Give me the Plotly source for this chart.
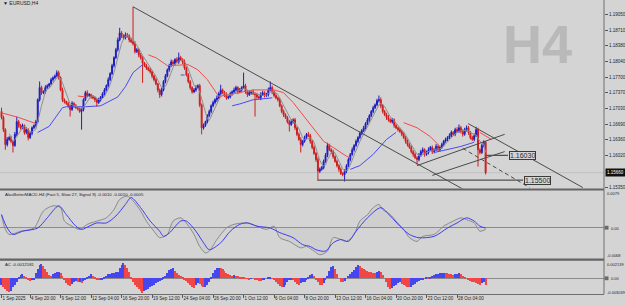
import plotly.graph_objects as go
import pandas as pd

# ---------------- data ----------------
first_open = 1.1697
closes = [
    1.1684, 1.1658, 1.1626, 1.1637, 1.1641, 1.1633, 1.1624, 1.1648, 1.1675, 1.1667,
    1.1662, 1.1667, 1.1652, 1.1658, 1.1641, 1.1650, 1.1662, 1.1667, 1.1675, 1.1722,
    1.1748, 1.1737, 1.1739, 1.1748, 1.1752, 1.1756, 1.1765, 1.1769, 1.1773, 1.1780,
    1.1769, 1.1743, 1.1722, 1.1718, 1.1714, 1.1709, 1.1701, 1.1714, 1.1709, 1.1705,
    1.1703, 1.1697, 1.1701, 1.1722, 1.1737, 1.1731, 1.1733, 1.1728, 1.1726, 1.1722,
    1.1716, 1.1722, 1.1728, 1.1735, 1.1743, 1.1752, 1.1765, 1.1778, 1.1795, 1.1812,
    1.1829, 1.1850, 1.1865, 1.1859, 1.1854, 1.1861, 1.1859, 1.1850, 1.1846, 1.1842,
    1.1825, 1.1829, 1.1818, 1.1812, 1.1801, 1.1795, 1.1790, 1.1786, 1.1782, 1.1773,
    1.1765, 1.1756, 1.1743, 1.1733, 1.1743, 1.1761, 1.1773, 1.1786, 1.1795, 1.1803,
    1.1799, 1.1808, 1.1803, 1.1812, 1.1808, 1.1803, 1.1790, 1.1775, 1.1761, 1.1748,
    1.1739, 1.1743, 1.1748, 1.1752, 1.1711, 1.1662, 1.1667, 1.1675, 1.1688, 1.1697,
    1.1709, 1.1716, 1.1722, 1.1726, 1.1735, 1.1743, 1.1737, 1.1733, 1.1726, 1.1728,
    1.1735, 1.1739, 1.1743, 1.1748, 1.1739, 1.1743, 1.1748, 1.1752, 1.1739, 1.1733,
    1.1737, 1.1739, 1.1735, 1.1733, 1.1728, 1.1726, 1.1733, 1.1737, 1.1731, 1.1733,
    1.1743, 1.1748, 1.1739, 1.1731, 1.1726, 1.1722, 1.1709, 1.1697, 1.1690, 1.1684,
    1.1675, 1.1669, 1.1675, 1.1679, 1.1662, 1.1648, 1.1637, 1.1626, 1.1633, 1.1641,
    1.1648, 1.1645, 1.1633, 1.1620, 1.1607, 1.1594, 1.1569, 1.1573, 1.1577, 1.1590,
    1.1603, 1.1624, 1.1615, 1.1611, 1.1600, 1.1590, 1.1581, 1.1573, 1.1564, 1.1562,
    1.1569, 1.1581, 1.1594, 1.1605, 1.1615, 1.1624, 1.1633, 1.1641, 1.1650, 1.1656,
    1.1662, 1.1671, 1.1679, 1.1688, 1.1697, 1.1705, 1.1711, 1.1720, 1.1722, 1.1709,
    1.1697, 1.1690, 1.1684, 1.1679, 1.1675, 1.1679, 1.1667, 1.1662, 1.1658, 1.1654,
    1.1648, 1.1641, 1.1633, 1.1626, 1.1620, 1.1611, 1.1605, 1.1598, 1.1594, 1.1603,
    1.1611, 1.1615, 1.1605, 1.1609, 1.1615, 1.1620, 1.1611, 1.1615, 1.1622, 1.1615,
    1.1620, 1.1626, 1.1633, 1.1637, 1.1641, 1.1645, 1.1652, 1.1648, 1.1658, 1.1654,
    1.1662, 1.1654, 1.1648, 1.1658, 1.1662, 1.1652, 1.1641, 1.1637, 1.1645, 1.1658,
    1.1615, 1.1609, 1.1624, 1.1631, 1.1566,
]
# upper / lower shadow lengths in pips
wick_up = [
    8, 4, 3, 5, 3, 4, 2, 5, 11, 4,   3, 4, 2, 5, 3, 4, 3, 2, 4, 3,
    13, 4, 3, 5, 3, 2, 4, 3, 3, 5,   4, 3, 5, 3, 2, 4, 3, 5, 3, 4,
    3, 2, 4, 3, 4, 5, 3, 2, 4, 3,    3, 4, 2, 3, 4, 3, 5, 3, 4, 3,
    4, 5, 11, 4, 3, 5, 4, 3, 4, 75,  5, 4, 3, 4, 3, 2, 4, 3, 5, 3,
    3, 4, 2, 3, 5, 3, 4, 3, 4, 5,    4, 3, 5, 11, 4, 3, 5, 3, 4, 3,
    3, 4, 5, 3, 4, 3, 4, 2, 3, 4,    3, 4, 3, 5, 4, 11, 3, 4, 5, 3,
    4, 3, 5, 4, 3, 4, 3, 28, 4, 3,   4, 3, 5, 3, 4, 3, 5, 4, 3, 4,
    5, 13, 4, 3, 5, 3, 4, 3, 4, 3,   3, 4, 5, 3, 4, 3, 4, 5, 3, 4,
    3, 5, 4, 3, 4, 3, 5, 4, 3, 4,    5, 6, 4, 3, 4, 3, 4, 3, 4, 3,
    4, 3, 4, 3, 5, 3, 4, 3, 4, 3,    4, 3, 4, 3, 3, 4, 3, 4, 9, 5,
    4, 3, 4, 5, 3, 4, 3, 4, 3, 4,    3, 4, 3, 4, 3, 4, 3, 4, 3, 5,
    4, 5, 3, 4, 5, 3, 4, 3, 5, 4,    3, 4, 3, 4, 3, 5, 4, 3, 4, 5,
    7, 4, 5, 4, 5, 4, 3, 4, 5, 6,    4, 3, 4, 4, 3,
]
wick_dn = [
    4, 5, 11, 4, 3, 4, 15, 3, 4, 5,  4, 3, 5, 4, 6, 3, 4, 3, 4, 3,
    4, 5, 3, 4, 3, 4, 3, 4, 3, 3,    4, 3, 5, 4, 3, 4, 15, 3, 4, 3,
    4, 3, 39, 4, 3, 4, 3, 4, 3, 5,   9, 3, 4, 3, 4, 3, 4, 3, 3, 4,
    3, 4, 3, 5, 4, 3, 4, 5, 3, 4,    4, 3, 5, 4, 43, 3, 4, 3, 4, 5,
    4, 3, 5, 7, 4, 3, 4, 3, 4, 3,    5, 4, 3, 4, 3, 5, 4, 3, 4, 5,
    4, 3, 4, 3, 5, 14, 4, 3, 4, 3,   4, 3, 4, 5, 3, 4, 3, 5, 4, 3,
    3, 4, 3, 4, 5, 3, 4, 3, 4, 5,    3, 4, 3, 47, 4, 3, 5, 3, 4, 3,
    4, 3, 5, 4, 3, 4, 3, 4, 5, 3,    4, 15, 3, 4, 5, 4, 3, 17, 4, 3,
    4, 3, 5, 4, 3, 5, 18, 4, 3, 4,   3, 4, 3, 5, 4, 3, 4, 5, 3, 4,
    15, 4, 3, 4, 3, 4, 3, 4, 3, 4,   3, 4, 3, 4, 3, 4, 3, 3, 4, 5,
    4, 3, 5, 4, 3, 4, 5, 3, 4, 3,    4, 3, 5, 4, 3, 4, 5, 3, 11, 4,
    3, 4, 5, 3, 4, 3, 5, 4, 3, 4,    4, 3, 4, 3, 4, 3, 4, 3, 4, 3,
    3, 4, 5, 3, 4, 5, 4, 3, 4, 3,    36, 4, 3, 4, 4,
]

# slow averages (drawn in segments, None = gap)
red_ma_x = [0, 9, 18, None, 40, 44, None, 77, 81, 85, 87, 98, 103, 108, 114, 122, 132, 143, 148, 153,
            158, 164, 169, 174, 181, 183, None, 211, 218, 225, 230, None, 251, 257]
red_ma_y = [1.1694, 1.1684, 1.1671, None, 1.1730, 1.1728, None, 1.1818, 1.1812, 1.1801, 1.1795,
            1.1797, 1.1786, 1.1765, 1.1729, 1.1735, 1.1743, 1.1743, 1.1737, 1.1716, 1.1690, 1.1658,
            1.1633, 1.1620, 1.1601, 1.1598, None, 1.1673, 1.1662, 1.1643, 1.1622, None, 1.1652, 1.1637]
blue_ma_x = [19, 25, 32, 34, 44, 52, 61, 65, 69, 74, None, 94, 96, None, 121, 125, 132, 142, None,
             183, 188, 195, 202, 207, None, 227, 234, 241, 248]
blue_ma_y = [1.1652, 1.1665, 1.1705, 1.1707, 1.1707, 1.1709, 1.1728, 1.1750, 1.1780, 1.1797, None,
             1.1775, 1.1775, None, 1.1709, 1.1713, 1.1722, 1.1726, None, 1.1573, 1.1581, 1.1605,
             1.1637, 1.1652, None, 1.1609, 1.1615, 1.1622, 1.1631]

# drawn objects
trend_x = [69, 244]
trend_y = [1.1921, 1.15264]
chan_upper_x = [244.8, 305]
chan_upper_y = [1.1671, 1.1534]
rise_a_x = [218, 264]
rise_a_y = [1.1581, 1.1648]
rise_b_x = [226, 264]
rise_b_y = [1.1560, 1.1611]
dash_x = [242, 277]
dash_y = [1.1618, 1.1534]
level_prices = [1.15500, 1.16030]
level_x0 = [165.6, 253.7]
level_x1 = [273.6, 265.7]
level_label_x = [281.2, 273.3]

# MACD panel
macd_x = [0, 2, 4, 10, 17, 22, 27, 31, 33, 37, 41, 45, 50, 55, 59, 62, 66, 69, 73, 76, 80, 83, 87, 90,
          94, 97, 101, 104, 107, 109, 113, 118, 122, 129, 134, 139, 143, 146, 151, 157, 160, 164, 167,
          171, 174, 178, 181, 185, 188, 192, 195, 198, 200, 204, 207, 211, 214, 218, 221, 227, 232,
          237, 241, 244, 248, 251, 254]
macd_v = [0.0027, -0.0005, -0.0016, -0.0009, -0.0002, 0.0035, 0.0046, 0.0042, 0.0013, 0.0002,
          -0.0005, 0.0006, 0.0013, 0.0020, 0.0038, 0.0060, 0.0067, 0.0057, 0.0035, 0.0013,
          -0.0009, -0.0023, -0.0016, 0.0013, 0.0020, 0.0009, -0.0016, -0.0042, -0.0056, -0.0052,
          -0.0027, -0.0002, 0.0006, 0.0009, 0.0002, -0.0005, 0.0002, -0.0023, -0.0031, -0.0045,
          -0.0042, -0.0052, -0.0060, -0.0052, -0.0023, -0.0027, -0.0031, -0.0016, 0.0013, 0.0027,
          0.0042, 0.0049, 0.0038, 0.0027, 0.0013, -0.0005, -0.0023, -0.0031, -0.0020, -0.0016,
          0.0002, 0.0013, 0.0020, 0.0016, 0.0009, -0.0009, -0.0005]
signal_x = [0, 3, 6, 11, 19, 24, 30, 34, 39, 42, 46, 50, 55, 60, 65, 68, 73, 78, 83, 85, 88, 94, 97,
            102, 106, 109, 115, 120, 125, 129, 134, 141, 146, 153, 158, 162, 165, 170, 174, 178, 182,
            186, 192, 199, 204, 209, 214, 219, 227, 234, 239, 244, 248, 251, 254]
signal_v = [0.0027, -0.0002, -0.0016, -0.0009, -0.0002, 0.0020, 0.0046, 0.0027, 0.0002, -0.0005,
            0.0002, 0.0009, 0.0009, 0.0024, 0.0049, 0.0064, 0.0042, 0.0013, -0.0009, -0.0020,
            -0.0013, 0.0013, 0.0013, -0.0009, -0.0034, -0.0049, -0.0034, -0.0009, 0.0006, 0.0009,
            0.0002, -0.0002, -0.0012, -0.0023, -0.0038, -0.0042, -0.0049, -0.0052, -0.0034, -0.0027,
            -0.0031, -0.0009, 0.0020, 0.0042, 0.0024, 0.0002, -0.0016, -0.0023, -0.0020, -0.0002,
            0.0009, 0.0020, 0.0013, 0.0002, -0.0002]

# AC panel
ac_values = [
    -0.0010, -0.00125, -0.0016, -0.0019, -0.0020, -0.0018, -0.00125, -0.0009, -0.0005, 0.00025,
    0.0005, 0.0006, 0.0004, 0.0001, -0.00025, -0.0004, -0.0003, -0.00015, 0.00075, 0.0014,
    0.0020, 0.0022, 0.0019, 0.0014, 0.0009, 0.0005, 0.0004, 0.0006, 0.00075, 0.0009,
    0.0010, 0.0008, 0.0004, -0.00025, -0.00075, -0.0010, -0.0011, -0.0008, -0.0006, -0.0004,
    -0.0006, -0.0005, -0.0007, -0.00045, -0.0002, 0.0002, 0.0004, 0.0006, 0.0004, 0.0001,
    -0.00015, -0.00025, -0.0002, -0.0001, 0.0002, 0.0004, 0.0006, 0.0007, 0.0008, 0.00085,
    0.0009, 0.0010, 0.0015, 0.0020, 0.00225, 0.0020, 0.0016, 0.0009, 0.0001, -0.0005,
    -0.0009, -0.00125, -0.0016, -0.0019, -0.0021, -0.0019, -0.0017, -0.0015, -0.0013, -0.0011,
    -0.0009, -0.0007, -0.0005, -0.0004, -0.0002, 0.0001, 0.0004, 0.0008, 0.0012, 0.0014,
    0.0015, 0.0011, 0.0008, 0.0005, 0.0003, 0.0001, -0.0001, -0.0004, -0.0007, -0.0010,
    -0.0013, -0.0014, -0.0010, -0.0007, -0.0008, -0.0011, -0.0013, -0.0012, -0.0009, -0.0005,
    0.0002, 0.0008, 0.0012, 0.0015, 0.0016, 0.0015, 0.0014, 0.0011, 0.0008, 0.0006,
    0.0005, 0.0004, 0.0005, 0.0004, 0.0003, 0.0002, 0.00015, 0.0001, 0.00005, -0.00005,
    -0.0001, -0.00005, 0.0, -0.0001, -0.00025, -0.00035, -0.0004, -0.0003, -0.00015, 0.0,
    0.00015, 0.0002, 0.00005, -0.0002, -0.0005, -0.0008, -0.0011, -0.0013, -0.0012, -0.0009,
    -0.0005, -0.0002, -0.0001, -0.0003, -0.0006, -0.0008, -0.0009, -0.00075, -0.0006, -0.0005,
    -0.0003, 0.0001, 0.0005, 0.0006, 0.0004, -0.0001, -0.0005, -0.0009, -0.0010, -0.0007,
    -0.0003, 0.0004, 0.0011, 0.0017, 0.0019, 0.0014, 0.0007, 0.0, -0.0005, -0.0006,
    -0.0004, 0.0, 0.0003, 0.0007, 0.0010, 0.0013, 0.0017, 0.0020, 0.0018, 0.0016,
    0.0014, 0.0013, 0.0011, 0.0010, 0.0009, 0.0008, 0.00075, 0.0009, 0.0011, 0.0009,
    0.0005, 0.0, -0.0006, -0.0012, -0.0016, -0.0014, -0.0011, -0.0009, -0.0007, -0.0006,
    -0.0008, -0.0010, -0.0011, -0.0012, -0.0013, -0.0012, -0.0010, -0.0008, -0.0006, -0.0004,
    -0.0002, -0.0001, 0.0, 0.00015, 0.0001, 0.0002, 0.0004, 0.0005, 0.0006, 0.0007,
    0.0008, 0.0008, 0.00085, 0.0008, 0.0008, 0.0007, 0.0006, 0.0005, 0.0006, 0.0007,
    0.00075, 0.0006, 0.0004, 0.0002, 0.0, -0.0002, -0.0004, -0.0005, -0.0006, -0.0007,
    -0.0008, -0.0009, -0.0007, -0.0006, -0.0010,
]

# axes text
price_ticks = [1.19050, 1.18710, 1.18380, 1.18040, 1.17700, 1.17370, 1.17030, 1.16690, 1.16360,
               1.16020, 1.15350]
time_tick_bars = [0, 15, 31, 47, 63, 79, 95, 111, 127, 143, 159, 175, 191, 207, 223, 239]
time_tick_labels = ["1 Sep 2025", "4 Sep 20:00", "9 Sep 12:00", "12 Sep 04:00", "16 Sep 20:00",
                    "19 Sep 12:00", "24 Sep 04:00", "26 Sep 20:00", "1 Oct 12:00", "6 Oct 04:00",
                    "8 Oct 20:00", "13 Oct 12:00", "16 Oct 04:00", "20 Oct 20:00", "23 Oct 12:00",
                    "28 Oct 04:00"]
macd_title = "AlasBetterMACD-H4 (Fast 5, Slow 27, Signal 9) -0.0010 -0.0010 -0.0005"
ac_title = "AC -0.0012581"
macd_scale = ["0.0079", "0.00", "-0.0068"]
ac_scale = ["0.002139", "0.00", "-0.003039"]

# ---------------- build ----------------
W, H = 625, 305
BG = "#d4d4d4"
FONT = "Liberation Sans"
TXT = "#1e1e1e"
PLOT_R = 604 / W


def py(px):  # pixel row -> paper y
    return (H - px) / H


bars = list(range(len(closes)))
opens = [first_open] + closes[:-1]
highs = [max(o, c) + w * 0.0001 for o, c, w in zip(opens, closes, wick_up)]
lows = [min(o, c) - w * 0.0001 for o, c, w in zip(opens, closes, wick_dn)]
fast_ma = pd.Series(closes).rolling(5).mean().tolist()

ac_colors = []
prev_col = "#4646f0"
for k, v in enumerate(ac_values):
    if k > 0 and v > ac_values[k - 1]:
        prev_col = "#4646f0"
    elif k > 0 and v < ac_values[k - 1]:
        prev_col = "#f04646"
    ac_colors.append(prev_col)

fig = go.Figure()

# price panel
fig.add_trace(go.Scatter(x=red_ma_x, y=red_ma_y, mode="lines", connectgaps=False,
                         line=dict(color="#f24a4a", width=1)))
fig.add_trace(go.Scatter(x=blue_ma_x, y=blue_ma_y, mode="lines", connectgaps=False,
                         line=dict(color="#4a4af2", width=1)))
fig.add_trace(go.Scatter(x=bars, y=fast_ma, mode="lines", line=dict(color="#8e8e8e", width=1)))
fig.add_trace(go.Candlestick(
    x=bars, open=opens, high=highs, low=lows, close=closes, whiskerwidth=0,
    increasing=dict(line=dict(color="#1c1cc4", width=1), fillcolor="#1c1cc4"),
    decreasing=dict(line=dict(color="#d01c1c", width=1), fillcolor="#d01c1c"),
))
line_style = dict(color="#4a4a4a", width=1)
fig.add_trace(go.Scatter(x=trend_x, y=trend_y, mode="lines", line=line_style))
fig.add_trace(go.Scatter(x=chan_upper_x, y=chan_upper_y, mode="lines", line=line_style))
fig.add_trace(go.Scatter(x=rise_a_x, y=rise_a_y, mode="lines", line=line_style))
fig.add_trace(go.Scatter(x=rise_b_x, y=rise_b_y, mode="lines", line=line_style))
fig.add_trace(go.Scatter(x=dash_x, y=dash_y, mode="lines",
                         line=dict(color="#4a4a4a", width=1, dash="4px,3px")))
for p, a, b in zip(level_prices, level_x0, level_x1):
    fig.add_trace(go.Scatter(x=[a, b], y=[p, p], mode="lines", line=dict(color="#505050", width=1.3)))

# MACD panel
fig.add_trace(go.Scatter(x=macd_x, y=macd_v, yaxis="y2", mode="lines",
                         line=dict(color="#8a8a8a", width=1, shape="spline", smoothing=0.8),
                         fill="tozeroy", fillcolor="rgba(0,0,0,0)",
                         fillpattern=dict(shape="|", size=2, solidity=0.3, fgcolor="#b0b0b0",
                                          bgcolor="rgba(0,0,0,0)")))
fig.add_trace(go.Scatter(x=signal_x, y=signal_v, yaxis="y2", mode="lines",
                         line=dict(color="#3c3cf0", width=1, shape="spline", smoothing=0.8)))

# AC panel
fig.add_trace(go.Bar(x=bars, y=ac_values, yaxis="y3", marker=dict(color=ac_colors, line=dict(width=0)),
                     width=0.6))

shapes = [
    # current price line
    dict(type="line", xref="paper", x0=0, x1=PLOT_R, yref="y", y0=closes[-1], y1=closes[-1],
         line=dict(color="#c2c2c2", width=1), layer="below"),
    # panel separators
    dict(type="rect", xref="paper", x0=0, x1=PLOT_R, yref="paper", y0=py(190.6), y1=py(188.4),
         fillcolor="#656565", line=dict(width=0)),
    dict(type="rect", xref="paper", x0=0, x1=PLOT_R, yref="paper", y0=py(260.7), y1=py(258.5),
         fillcolor="#656565", line=dict(width=0)),
    # right axis line
    dict(type="line", xref="paper", x0=PLOT_R, x1=PLOT_R, yref="paper", y0=py(294), y1=1,
         line=dict(color="#6e6e6e", width=1)),
    # small markers before the zero labels
    dict(type="rect", xref="paper", x0=604.5 / W, x1=608.5 / W, yref="paper", y0=py(229.6), y1=py(225.8),
         fillcolor="#6a6a6a", line=dict(width=0)),
    dict(type="rect", xref="paper", x0=604.5 / W, x1=608.5 / W, yref="paper", y0=py(280.2), y1=py(276.4),
         fillcolor="#6a6a6a", line=dict(width=0)),
]

small = dict(family=FONT, size=4.5, color=TXT)
tiny = dict(family=FONT, size=4, color=TXT)
ann = []
ann.append(dict(text="<b>H4</b>", xref="paper", yref="paper", x=537 / W, y=py(44), showarrow=False,
                font=dict(family=FONT, size=54, color="#b9b9b9"), xanchor="center", yanchor="middle"))
ann.append(dict(text="▼ EURUSD,H4", xref="paper", yref="paper", x=1 / W, y=py(3.5), showarrow=False,
                font=dict(family=FONT, size=5, color=TXT), xanchor="left", yanchor="middle"))
ann.append(dict(text=macd_title, xref="paper", yref="paper", x=3 / W, y=py(194.5), showarrow=False,
                font=dict(family=FONT, size=4.3, color=TXT), xanchor="left", yanchor="middle"))
ann.append(dict(text=ac_title, xref="paper", yref="paper", x=3 / W, y=py(264.5), showarrow=False,
                font=dict(family=FONT, size=4.3, color=TXT), xanchor="left", yanchor="middle"))
for t, yy in zip(macd_scale, [193, 228, 255.5]):
    ann.append(dict(text=t, xref="paper", yref="paper", x=(609 if t == "0.00" else 605) / W,
                    y=py(yy), showarrow=False, font=tiny, xanchor="left", yanchor="middle"))
for t, yy in zip(ac_scale, [264, 278.3, 292]):
    ann.append(dict(text=t, xref="paper", yref="paper", x=(609 if t == "0.00" else 604.5) / W,
                    y=py(yy), showarrow=False, font=tiny, xanchor="left", yanchor="middle"))
for p, lx in zip(level_prices, level_label_x):
    ann.append(dict(text=f"{p:.5f}", xref="x", yref="y", x=lx, y=p, showarrow=False,
                    font=dict(family=FONT, size=7, color="#2a2a2a"), bordercolor="#3a3a3a",
                    borderwidth=1, borderpad=0, bgcolor=BG, xanchor="center", yanchor="middle"))
ann.append(dict(text=f"{closes[-1]:.5f}", xref="paper", yref="y", x=604.5 / W, y=closes[-1],
                showarrow=False, font=dict(family=FONT, size=4.5, color="#ffffff"),
                bgcolor="#101010", borderpad=1, xanchor="left", yanchor="middle"))

fig.update_layout(
    width=W, height=H, margin=dict(l=0, r=0, t=0, b=0, autoexpand=False),
    paper_bgcolor=BG, plot_bgcolor=BG, showlegend=False, hovermode=False,
    bargap=0, shapes=shapes, annotations=ann,
    xaxis=dict(domain=[0, PLOT_R], range=[-0.8, 316.1], anchor="y3", showgrid=False, zeroline=False,
               tickvals=time_tick_bars, ticktext=time_tick_labels, ticks="outside", ticklen=3,
               tickcolor="#555555", tickfont=small, ticklabelposition="outside right",
               tickangle=0, automargin=False,
               showline=True, linecolor="#6e6e6e", linewidth=1, rangeslider=dict(visible=False)),
    yaxis=dict(domain=[py(188.4), 1], range=[1.15322, 1.19355], side="right", anchor="x",
               showgrid=False, zeroline=False, tickvals=price_ticks, automargin=False,
               ticktext=[f"{v:.5f}" for v in price_ticks], ticks="outside", ticklen=3,
               tickcolor="#555555", tickfont=small),
    yaxis2=dict(domain=[py(258.5), py(190.6)], range=[-0.0068, 0.0079], side="right", anchor="x",
                showgrid=False, showticklabels=False, zeroline=True, zerolinecolor="#8a8a8a",
                zerolinewidth=1, automargin=False),
    yaxis3=dict(domain=[py(294), py(260.7)], range=[-0.00236, 0.0026], side="right", anchor="x",
                showgrid=False, showticklabels=False, zeroline=True, zerolinecolor="#8a8a8a",
                zerolinewidth=1, automargin=False),
)

fig.write_html("out.html")
